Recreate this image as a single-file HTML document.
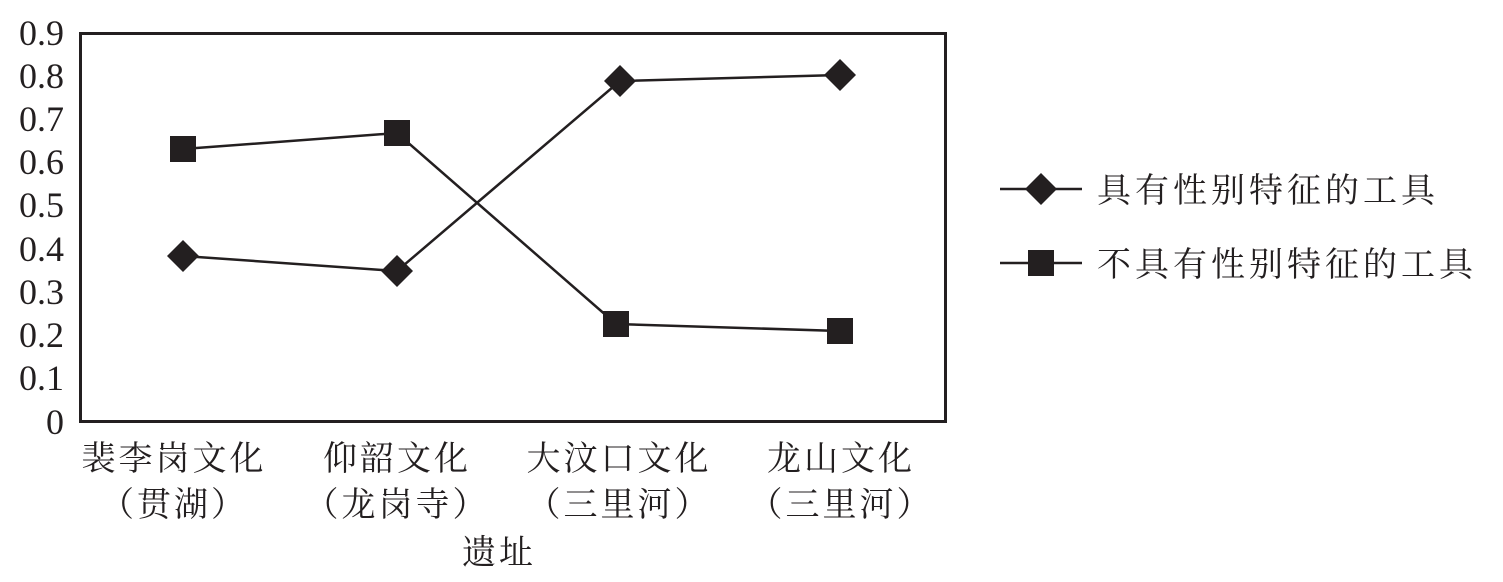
<!DOCTYPE html>
<html><head><meta charset="utf-8"><style>
html,body{margin:0;padding:0;background:#fff;width:1503px;height:582px;overflow:hidden}
text{font-family:"Liberation Serif","Noto Serif CJK SC",serif;fill:#231f20}
</style></head><body>
<svg width="1503" height="582" viewBox="0 0 1503 582" xmlns="http://www.w3.org/2000/svg">
<rect x="80.5" y="33.5" width="865" height="388" fill="none" stroke="#231f20" stroke-width="3"/>
<g font-size="36" text-anchor="end">
<text x="64" y="45">0.9</text><text x="64" y="88">0.8</text><text x="64" y="131">0.7</text>
<text x="64" y="174">0.6</text><text x="64" y="217">0.5</text><text x="64" y="261">0.4</text>
<text x="64" y="304">0.3</text><text x="64" y="347">0.2</text><text x="64" y="390">0.1</text>
<text x="64" y="434">0</text>
</g>
<g stroke="#231f20" stroke-width="2.5" fill="none">
<polyline points="183,256 397,271 620,81 840,75"/>
<polyline points="183,149 397,133 616,324 840,331"/>
<line x1="1000" y1="189" x2="1082" y2="189"/>
<line x1="1000" y1="263" x2="1082" y2="263"/>
</g>
<g fill="#231f20">
<polygon points="183,240 199,256 183,272 167,256"/>
<polygon points="397,255 413,271 397,287 381,271"/>
<polygon points="620,65 636,81 620,97 604,81"/>
<polygon points="840,59 856,75 840,91 824,75"/>
<rect x="170" y="136" width="26" height="26"/>
<rect x="384" y="120" width="26" height="26"/>
<rect x="603" y="311" width="26" height="26"/>
<rect x="827" y="318" width="26" height="26"/>
<polygon points="1041,173 1057,189 1041,205 1025,189"/>
<rect x="1028" y="250" width="26" height="26"/>
</g>
<g font-size="34" letter-spacing="4">
<text x="1097" y="202">具有性别特征的工具</text>
<text x="1097" y="276">不具有性别特征的工具</text>
</g>
<g font-size="34" letter-spacing="3" text-anchor="middle">
<text x="174" y="470">裴李岗文化</text><text x="174" y="516">（贯湖）</text>
<text x="397" y="470">仰韶文化</text><text x="397" y="516">（龙岗寺）</text>
<text x="619" y="470">大汶口文化</text><text x="619" y="516">（三里河）</text>
<text x="841" y="470">龙山文化</text><text x="841" y="516">（三里河）</text>
<text x="499" y="564">遗址</text>
</g>
</svg>
</body></html>
